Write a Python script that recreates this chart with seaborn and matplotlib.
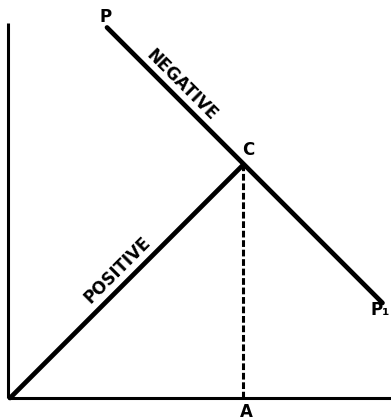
import matplotlib
matplotlib.use("Agg")
import matplotlib.pyplot as plt
import seaborn as sns
import pandas as pd

# Data (diagram units)
pos_x = [0.0, 6.0]
pos_y = [0.0, 6.0]
neg_x = [2.5, 6.0, 9.6]
neg_y = [9.55, 6.05, 2.45]
c_x = [6.0, 6.0]
c_y = [0.0, 6.0]
point_labels = ["P", "C", "P\u2081", "A"]
line_labels = ["NEGATIVE", "POSITIVE"]

sns.set_theme(style="white")
plt.rcParams['font.family'] = ['DejaVu Sans']

fig = plt.figure(figsize=(3.91, 4.2), dpi=100)
ax = fig.add_axes([0, 0, 1, 1])

pos_df = pd.DataFrame({"x": pos_x, "y": pos_y})
neg_df = pd.DataFrame({"x": neg_x, "y": neg_y})

sns.lineplot(data=pos_df, x="x", y="y", ax=ax, color="black", lw=3.4,
             sort=False, solid_capstyle="round")
sns.lineplot(data=neg_df, x="x", y="y", ax=ax, color="black", lw=3.4,
             sort=False, solid_capstyle="round")
ax.plot(c_x, c_y, color="black", lw=2.2, linestyle=(0, (2.2, 0.9)))

ax.set_xlim(-0.258, 9.82)
ax.set_ylim(-0.567, 10.258)
ax.set_xlabel("")
ax.set_ylabel("")
ax.set_xticks([])
ax.set_yticks([])

for s in ["top", "right"]:
    ax.spines[s].set_visible(False)
ax.spines["left"].set_position(("data", -0.05))
ax.spines["left"].set_bounds(0, 9.66)
ax.spines["bottom"].set_position(("data", 0))
ax.spines["bottom"].set_bounds(-0.05, 9.82)
for s in ["left", "bottom"]:
    ax.spines[s].set_color("black")
    ax.spines[s].set_linewidth(2.2)
    ax.spines[s].set_capstyle("butt")

fk = dict(fontsize=12, fontweight="bold", color="black")
ax.text(2.45, 9.82, point_labels[0], ha="center", va="center", **fk)
ax.text(6.13, 6.39, point_labels[1], ha="center", va="center", **fk)
ax.text(9.80, 2.27, point_labels[2], ha="right", va="center", **fk)
ax.text(6.1, -0.36, point_labels[3], ha="center", va="center", **fk)

ax.text(4.43, 8.07, line_labels[0], rotation=-45, rotation_mode="anchor",
        ha="center", va="center", **fk)
ax.text(2.78, 3.30, line_labels[1], rotation=45, rotation_mode="anchor",
        ha="center", va="center", **fk)

fig.savefig("out.png", dpi=100)
